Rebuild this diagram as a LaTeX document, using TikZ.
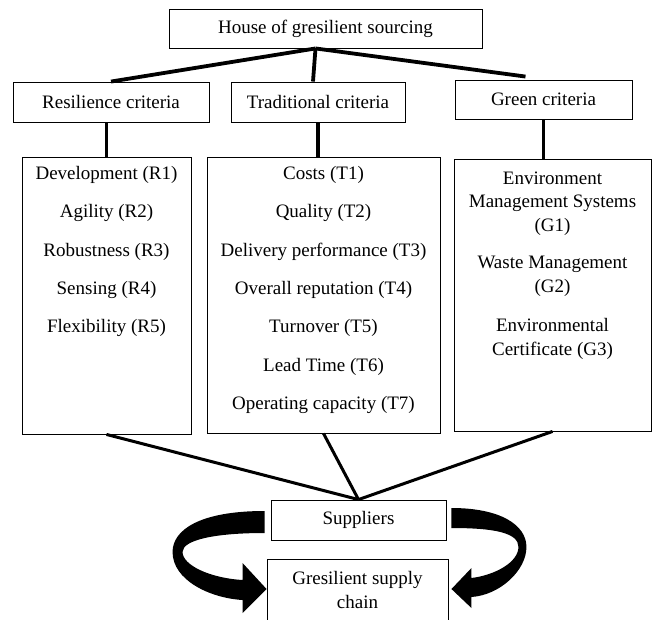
\documentclass[tikz,border=0pt]{standalone}
\usepackage{fontspec}
\setmainfont{Liberation Serif}
\usepackage{tikz}
\usetikzlibrary{calc}

\begin{document}
\begin{tikzpicture}[
    x=1pt, y=-1pt,
    every node/.style={font=\fontsize{19}{23.5}\selectfont},
    box/.style={draw, line width=0.9pt, inner sep=0pt, align=center},
    item/.style={anchor=base, inner sep=0pt},
    link/.style={line width=3.8pt},
    feed/.style={line width=3pt},
    bigarrow/.style={fill=black}
]
    \useasboundingbox (0,0) rectangle (656,622);
    \clip (0,0) rectangle (656,619);

    % Top of the house
    \node[box, minimum width=313pt, minimum height=39pt] (house) at (325.5,28.5) {House of gresilient sourcing};

    % Criteria headings
    \node[box, minimum width=196pt, minimum height=40pt] (res) at (111,102) {Resilience criteria};
    \node[box, minimum width=174pt, minimum height=40pt] (trad) at (318,102) {Traditional criteria};
    \node[box, minimum width=177pt, minimum height=39pt] (green) at (543.5,99.5) {Green criteria};

    % Criteria lists
    \node[box, minimum width=169pt, minimum height=277pt] (rlist) at (106.5,295.5) {};
    \node[box, minimum width=233pt, minimum height=276pt] (tlist) at (323.5,295) {};
    \node[box, minimum width=197pt, minimum height=272pt] (glist) at (552.5,295) {};

    \node[item] (r1) at (106.5,179) {Development (R1)};
    \node[item] (r2) at (106.5,217) {Agility (R2)};
    \node[item] (r3) at (106.5,256) {Robustness (R3)};
    \node[item] (r4) at (106.5,294) {Sensing (R4)};
    \node[item] (r5) at (106.5,332) {Flexibility (R5)};

    \node[item] (t1) at (323.5,179) {Costs (T1)};
    \node[item] (t2) at (323.5,217) {Quality (T2)};
    \node[item] (t3) at (323.5,256) {Delivery performance (T3)};
    \node[item] (t4) at (323.5,294) {Overall reputation (T4)};
    \node[item] (t5) at (323.5,332) {Turnover (T5)};
    \node[item] (t6) at (323.5,371) {Lead Time (T6)};
    \node[item] (t7) at (323.5,409) {Operating capacity (T7)};

    \node[item] (g1a) at (552.5,184) {Environment};
    \node[item] (g1b) at (552.5,207.5) {Management Systems};
    \node[item] (g1c) at (552.5,231) {(G1)};
    \node[item] (g2a) at (552.5,268.5) {Waste Management};
    \node[item] (g2b) at (552.5,292) {(G2)};
    \node[item] (g3a) at (552.5,331.5) {Environmental};
    \node[item] (g3b) at (552.5,355) {Certificate (G3)};

    % Supply side
    \node[box, minimum width=175pt, minimum height=40pt] (sup) at (358.5,520) {Suppliers};
    \node[box, minimum width=181pt, minimum height=62pt] (gsc) at (357.5,590) {Gresilient supply\\chain};

    % Connectors
    \draw[link] ([xshift=-10pt]house.south) -- (res.north);
    \draw[link] ([xshift=-10pt]house.south) -- ([xshift=-5pt]trad.north);
    \draw[link] ([xshift=-10pt]house.south) -- ([xshift=-18pt,yshift=3pt]green.north);

    \draw[link] (rlist.north) -- (rlist.north |- res.south);
    \draw[link] (trad.south) -- (trad.south |- tlist.north);
    \draw[link] (green.south) -- (green.south |- glist.north);

    \draw[feed] (rlist.south) -- (sup.north);
    \draw[feed] (tlist.south) -- (sup.north);
    \draw[feed] (glist.south) -- (sup.north);

    % Curved arrows
    \fill[bigarrow, shift={(sup.west)}] (-6,-9) .. controls (-71,-9) and (-98,10) .. (-98,32)
        .. controls (-98,60) and (-61,78) .. (-28,80) -- (-28,93) -- (-4,69) -- (-28,43) -- (-28,60)
        .. controls (-61,58) and (-88,45) .. (-88,32) .. controls (-88,20) and (-56,13) .. (-6,13) -- cycle;
    \fill[bigarrow, shift={(sup.east)}] (5,-12) .. controls (54,-12) and (80,5) .. (80,27)
        .. controls (80,50) and (54,75) .. (25,77) -- (25,88) -- (5,69) -- (25,48) -- (25,58)
        .. controls (49,55) and (72,42) .. (72,27) .. controls (72,13) and (49,8) .. (5,8) -- cycle;
\end{tikzpicture}
\end{document}
